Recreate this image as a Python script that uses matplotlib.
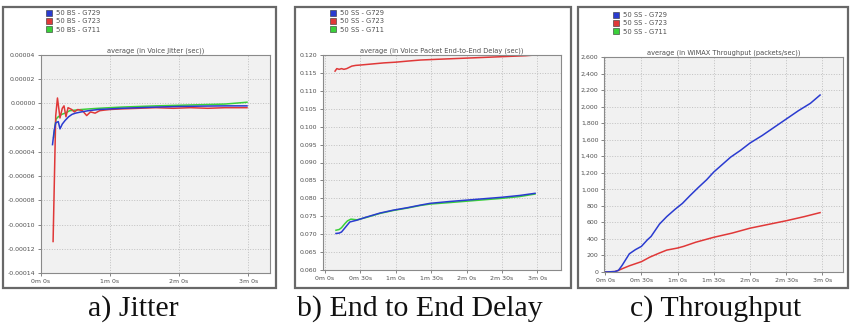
"""Three OPNET-style panels: jitter, end-to-end delay, throughput."""

import matplotlib
matplotlib.use('Agg')
import matplotlib.pyplot as plt
from matplotlib.lines import Line2D
from matplotlib.patches import Rectangle
from matplotlib.ticker import FuncFormatter, MultipleLocator

W, H = 856, 324

# --- data (seconds, values) ---
jit_t_blue = [10, 11.5, 12.8, 15, 16.5, 18.5, 21, 24, 27, 30, 35, 41, 50, 60, 70, 85, 100, 120, 140, 160, 179]
jit_blue = [-3.4e-5, -2.2e-5, -1.6e-5, -1.5e-5, -2.1e-5, -1.7e-5, -1.4e-5, -1.1e-5, -0.9e-5, -0.8e-5,
            -0.7e-5, -0.6e-5, -0.5e-5, -0.45e-5, -0.4e-5, -0.35e-5, -0.3e-5, -0.25e-5, -0.22e-5, -0.2e-5, -0.2e-5]
jit_t_red = [10.5, 12.8, 14.3, 16.5, 18.5, 20, 21.7, 23.5, 26.7, 29, 32, 36, 39.7, 43, 47, 51, 55,
             60, 70, 85, 100, 115, 130, 145, 160, 179]
jit_red = [-11.4e-5, -1.0e-5, 0.45e-5, -1.2e-5, -0.4e-5, -0.2e-5, -1.1e-5, -0.35e-5, -0.5e-5, -0.7e-5,
           -0.5e-5, -0.6e-5, -1.0e-5, -0.7e-5, -0.8e-5, -0.6e-5, -0.55e-5, -0.5e-5, -0.45e-5, -0.4e-5,
           -0.35e-5, -0.4e-5, -0.35e-5, -0.4e-5, -0.35e-5, -0.35e-5]
jit_t_green = [11, 13, 15, 18, 21, 25, 30, 35, 42, 50, 60, 70, 85, 100, 120, 140, 160, 179]
jit_green = [-2.8e-5, -1.3e-5, -1.1e-5, -0.9e-5, -0.8e-5, -0.6e-5, -0.55e-5, -0.5e-5, -0.45e-5, -0.4e-5,
             -0.35e-5, -0.3e-5, -0.25e-5, -0.2e-5, -0.15e-5, -0.1e-5, -0.05e-5, 0.1e-5]

del_t_red = [8.5, 10, 12, 14, 16, 18.4, 22.7, 26, 30, 40, 50, 60, 70, 81, 95, 110, 125, 140, 155, 170, 178]
del_red = [0.1155, 0.1162, 0.1160, 0.1162, 0.1160, 0.1162, 0.1169, 0.1171, 0.1172, 0.1175, 0.1178,
           0.1180, 0.1183, 0.1186, 0.1188, 0.1190, 0.1192, 0.1194, 0.1196, 0.1198, 0.1200]
del_t_blue = [9.3, 12, 14, 17, 21, 27, 35.4, 46.7, 57.8, 70, 80.7, 89, 105, 120, 135, 150, 165, 178]
del_blue = [0.0702, 0.0703, 0.0706, 0.0718, 0.0734, 0.0739, 0.0748, 0.0759, 0.0767, 0.0774, 0.0781,
            0.0786, 0.0791, 0.0795, 0.0799, 0.0803, 0.0808, 0.0814]
del_t_green = [9.3, 12, 14, 17, 19, 22, 27, 35.4, 46.7, 57.8, 70, 80.7, 89, 105, 120, 135, 150, 165, 178]
del_green = [0.0711, 0.0713, 0.0718, 0.0730, 0.0737, 0.0742, 0.0740, 0.0747, 0.0758, 0.0766, 0.0773,
             0.0780, 0.0784, 0.0788, 0.0792, 0.0796, 0.0800, 0.0805, 0.0812]

thr_t_blue = [0, 8, 11, 14, 17, 20, 25, 30, 35, 38, 45, 51, 58, 64, 70, 77, 84, 90, 97, 104,
              112, 120, 130, 140, 150, 160, 170, 178]
thr_blue = [0, 5, 20, 80, 150, 220, 270, 310, 390, 430, 580, 670, 760, 830, 920, 1020, 1115, 1210,
            1300, 1390, 1470, 1560, 1650, 1750, 1850, 1950, 2040, 2140]
thr_t_red = [0, 8, 11, 15, 20, 25, 30, 37, 45, 51, 60, 65, 75, 90, 105, 120, 135, 150, 165, 178]
thr_red = [0, 5, 20, 45, 75, 100, 125, 180, 230, 265, 290, 310, 360, 420, 470, 530, 575, 620, 670, 718]

labels_bs = ['50 BS - G729', '50 BS - G723', '50 BS - G711']
labels_ss = ['50 SS - G729', '50 SS - G723', '50 SS - G711']
titles = ['average (in Voice Jitter (sec))',
          'average (in Voice Packet End-to-End Delay (sec))',
          'average (in WiMAX Throughput (packets/sec))']
captions = ['a) Jitter', 'b) End to End Delay', 'c) Throughput']

BLUE, RED, GREEN = '#2a3bd0', '#e03838', '#3ad03a'
TXT = '#505050'


def fx(px):
    return px / W


def fy(py):
    return 1 - py / H


def mmss(v, pos):
    v = int(round(v))
    return f'{v // 60}m {v % 60}s'


fig = plt.figure(figsize=(W / 100, H / 100), dpi=100)

# outer panel boxes (pixel coords: left, top, right, bottom), behind the axes
for l, t, r, b in [(3, 7, 276, 288), (295, 7, 571, 288), (578, 7, 848, 288)]:
    fig.patches.append(Rectangle((fx(l), fy(b)), fx(r - l), (b - t) / H, transform=fig.transFigure,
                                 facecolor='white', edgecolor='#686868', lw=1.6, zorder=-1))


def make_axes(l, t, r, b):
    ax = fig.add_axes([fx(l), fy(b), fx(r - l), (b - t) / H])
    ax.set_facecolor('#f1f1f1')
    for s in ax.spines.values():
        s.set_color('#8a8a8a')
        s.set_linewidth(0.8)
    ax.grid(True, color='#c0c0c0', linestyle=':', linewidth=0.7)
    ax.set_axisbelow(True)
    ax.tick_params(labelsize=4.5, labelcolor=TXT, color='#707070', length=2.5, width=0.6, pad=1.5)
    ax.xaxis.set_major_formatter(FuncFormatter(mmss))
    return ax


def add_legend(ax, labels, x, y):
    handles = [Line2D([], [], marker='s', ls='none', color=c, mec='#303030', mew=0.4, markersize=4.4)
               for c in (BLUE, RED, GREEN)]
    ax.legend(handles, labels, loc='upper left', bbox_to_anchor=(fx(x), fy(y)), bbox_transform=fig.transFigure,
              frameon=False, fontsize=4.9, labelcolor=TXT, handlelength=0.7, handletextpad=0.6,
              borderpad=0, borderaxespad=0, labelspacing=0.35)


# a) jitter
ax = make_axes(41, 55, 270, 273)
ax.plot(jit_t_green, jit_green, color=GREEN, lw=1.1)
ax.plot(jit_t_red, jit_red, color=RED, lw=1.1)
ax.plot(jit_t_blue, jit_blue, color=BLUE, lw=1.1)
ax.set_xlim(0, 199)
ax.set_ylim(-0.00014, 0.00004)
ax.xaxis.set_major_locator(MultipleLocator(60))
ax.yaxis.set_major_locator(MultipleLocator(0.00002))
ax.yaxis.set_major_formatter(FuncFormatter(lambda v, p: f'{v:.5f}'))
ax.set_title(titles[0], fontsize=4.8, color=TXT, pad=1.5)
add_legend(ax, labels_bs, 47, 10)

# b) end to end delay
ax = make_axes(323, 55, 561, 270)
ax.plot(del_t_red, del_red, color=RED, lw=1.1)
ax.plot(del_t_green, del_green, color=GREEN, lw=1.1)
ax.plot(del_t_blue, del_blue, color=BLUE, lw=1.1)
ax.set_xlim(-1.7, 200)
ax.set_ylim(0.060, 0.120)
ax.xaxis.set_major_locator(MultipleLocator(30))
ax.yaxis.set_major_locator(MultipleLocator(0.005))
ax.yaxis.set_major_formatter(FuncFormatter(lambda v, p: f'{v:.3f}'))
ax.set_title(titles[1], fontsize=4.8, color=TXT, pad=1.5)
add_legend(ax, labels_ss, 331, 10)

# c) throughput
ax = make_axes(604, 57, 843, 272)
ax.plot(thr_t_red, thr_red, color=RED, lw=1.1)
ax.plot(thr_t_blue, thr_blue, color=BLUE, lw=1.1)
ax.set_xlim(-1, 197)
ax.set_ylim(0, 2600)
ax.xaxis.set_major_locator(MultipleLocator(30))
ax.yaxis.set_major_locator(MultipleLocator(200))
ax.yaxis.set_major_formatter(FuncFormatter(lambda v, p: f'{v:,.0f}'))
ax.set_title(titles[2], fontsize=4.8, color=TXT, pad=1.5)
add_legend(ax, labels_ss, 614, 12)

# captions
for cx, text in zip([133, 420, 716], captions):
    fig.text(fx(cx), fy(309), text, ha='center', va='center', fontsize=21.5,
             family='Liberation Serif', color='#111111')

fig.savefig('out.png', dpi=100)
